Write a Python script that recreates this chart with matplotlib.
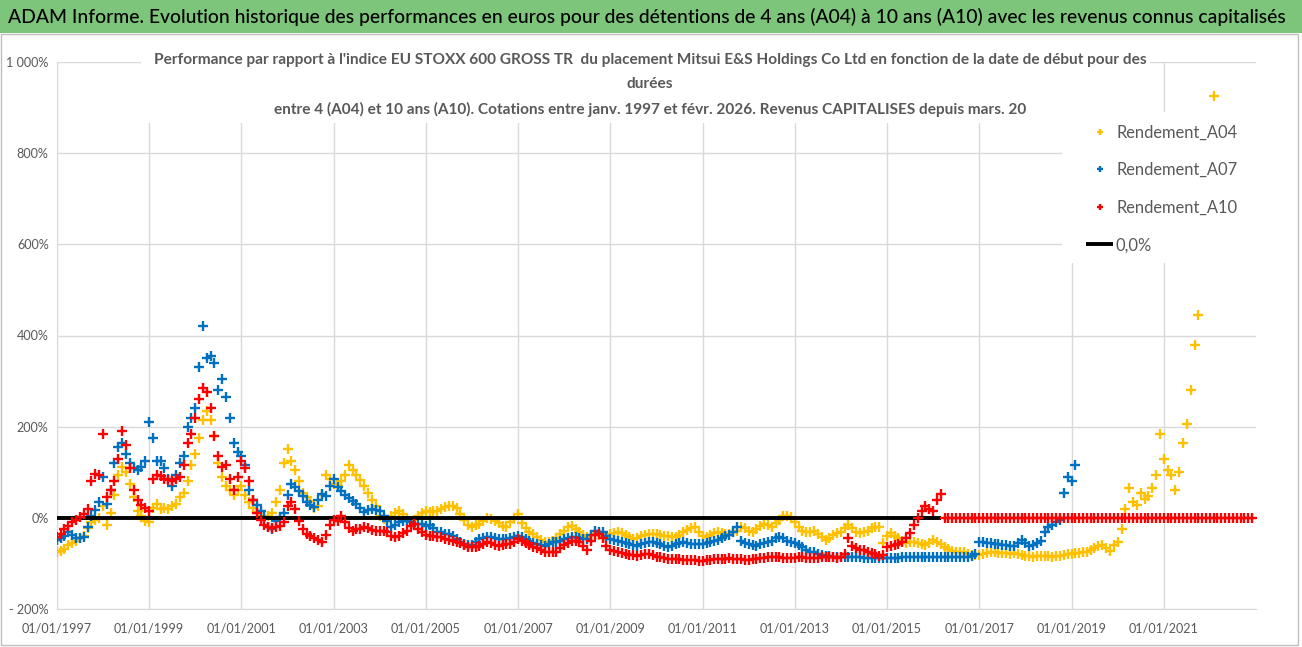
import numpy as np
import pandas as pd
import matplotlib
matplotlib.use('Agg')
import matplotlib.pyplot as plt
import matplotlib.dates as mdates
from matplotlib.patches import Rectangle

plt.rcParams['font.family'] = ['Lato', 'DejaVu Sans']

nan = np.nan

# Monthly values (%), one row per year from Jan 1997
rendement_a04 = [
    -75, -73, -68, -60, -55, -50, -45, -40, -22, -10, -5, 0,
    25, -15, 10, 50, 95, 112, 100, 75, 45, 15, 5, -8,
    -10, 22, 30, 20, 22, 20, 25, 30, 45, 55, 80, 115,
    140, 175, 215, 235, 215, 180, 120, 90, 70, 60, 50, 60,
    70, 50, 35, 22, 12, 5, 2, 4, 10, 35, 60, 120,
    150, 125, 105, 80, 55, 45, 38, 22, 25, 50, 95, 85,
    75, 70, 80, 95, 115, 105, 95, 82, 70, 55, 40, 25,
    5, -3, -6, 5, 10, 15, 8, -5, -6, -5, 5, 10,
    15, 12, 14, 16, 20, 24, 27, 25, 22, 8, -5, -15,
    -20, -16, -13, -6, 0, -3, -6, -12, -18, -20, -10, -3,
    8, -12, -22, -30, -35, -42, -48, -52, -53, -50, -44, -36,
    -28, -20, -17, -24, -31, -37, -42, -38, -35, -38, -42, -40,
    -36, -34, -32, -33, -38, -42, -46, -44, -40, -38, -36, -35,
    -36, -37, -39, -40, -41, -42, -38, -32, -26, -22, -20, -30,
    -40, -42, -38, -34, -31, -33, -35, -35, -32, -28, -20, -22,
    -28, -31, -25, -18, -13, -16, -20, -12, -5, 4, 5, 2,
    -10, -20, -28, -32, -30, -28, -35, -42, -49, -45, -38, -34,
    -30, -22, -16, -22, -30, -33, -31, -28, -23, -20, -20, -55,
    -40, -34, -40, -45, -50, -56, -54, -53, -55, -58, -60, -55,
    -49, -52, -58, -65, -68, -72, -75, -75, -76, -79, -82, -82,
    -82, -80, -78, -76, -75, -77, -77, -78, -80, -77, -80, -82,
    -84, -84, -85, -84, -84, -84, -84, -85, -84, -83, -81, -80,
    -80, -78, -77, -76, -74, -70, -67, -62, -60, -66, -73, -60,
    -52, -25, 20, 65, 35, 28, 55, 42, 48, 65, 95, 185,
    130, 105, 95, 60, 100, 165, 205, 280, 380, 445, nan, nan,
    nan, 925,
]

rendement_a07 = [
    -49, -45, -40, -32, -38, -44, -45, -42, -20, 5, 18, 35,
    90, 30, 60, 120, 155, 165, 140, 120, 110, 105, 112, 125,
    210, 175, 125, 125, 110, 85, 70, 95, 120, 135, 200, 220,
    240, 330, 420, 350, 355, 340, 280, 305, 265, 220, 165, 145,
    135, 115, 60, 40, 28, 15, 2, -20, -25, -8, 2, 10,
    50, 75, 68, 58, 48, 35, 28, 24, 40, 52, 48, 70,
    85, 68, 58, 50, 44, 38, 30, 22, 12, 18, 20, 18,
    16, 5, -8, -20, -15, -10, -7, -6, -10, -13, -13, -14,
    -17, -15, -22, -30, -32, -35, -36, -40, -47, -52, -57, -60,
    -60, -52, -46, -44, -42, -42, -44, -46, -47, -46, -45, -42,
    -39, -42, -46, -50, -55, -58, -60, -61, -58, -54, -52, -50,
    -47, -45, -43, -42, -44, -46, -46, -38, -28, -30, -32, -40,
    -46, -48, -50, -52, -56, -58, -60, -61, -58, -55, -54, -53,
    -55, -58, -62, -64, -62, -58, -55, -53, -55, -57, -58, -57,
    -57, -55, -53, -50, -48, -45, -40, -38, -30, -20, -50, -55,
    -58, -60, -61, -58, -55, -53, -50, -45, -42, -45, -50, -53,
    -55, -60, -65, -70, -74, -76, -80, -82, -83, -84, -85, -86,
    -86, -86, -86, -86, -86, -87, -88, -89, -89, -89, -89, -89,
    -89, -89, -88, -88, -87, -87, -87, -87, -86, -87, -87, -87,
    -87, -87, -87, -86, -86, -86, -86, -86, -85, -85, -84, -80,
    -53, -54, -56, -56, -57, -58, -59, -60, -61, -62, -55, -48,
    -55, -62, -60, -56, -50, -30, -20, -15, -10, -5, 55, 90,
    80, 115,
]

rendement_a10 = [
    -42, -35, -25, -18, -10, -5, 2, 8, 20, 80, 97, 95,
    185, 45, 60, 80, 130, 190, 160, 110, 60, 40, 28, 22,
    15, 85, 95, 92, 85, 82, 80, 85, 90, 115, 165, 185,
    220, 260, 285, 275, 240, 180, 135, 112, 115, 85, 60, 90,
    125, 110, 80, 40, 10, -5, -15, -20, -22, -20, -18, -10,
    25, 35, 20, -8, -25, -35, -40, -45, -48, -52, -38, -15,
    -5, -6, 3, -10, -22, -28, -25, -24, -21, -22, -27, -28,
    -28, -28, -30, -40, -42, -39, -33, -28, -18, -13, -25, -32,
    -38, -39, -40, -42, -43, -46, -49, -50, -54, -56, -60, -63,
    -64, -63, -61, -58, -54, -55, -60, -61, -60, -58, -57, -52,
    -46, -50, -56, -60, -63, -66, -70, -74, -76, -75, -74, -66,
    -60, -55, -50, -51, -53, -62, -70, -50, -38, -35, -45, -62,
    -70, -73, -76, -78, -80, -82, -82, -83, -82, -80, -80, -82,
    -85, -87, -88, -90, -90, -90, -91, -92, -92, -93, -93, -94,
    -94, -93, -92, -91, -90, -90, -90, -89, -90, -91, -91, -92,
    -92, -91, -90, -89, -88, -87, -86, -86, -87, -88, -88, -89,
    -88, -87, -87, -88, -89, -89, -88, -87, -86, -86, -87, -88,
    -86, -80, -45, -62, -67, -70, -71, -74, -77, -80, -84, -82,
    -64, -62, -60, -58, -53, -45, -34, -15, 0, 15, 25, 20,
    15, 40, 52, 0, 0, 0, 0, 0, 0, 0, 0, 0,
    0, 0, 0, 0, 0, 0, 0, 0, 0, 0, 0, 0,
    0, 0, 0, 0, 0, 0, 0, 0, 0, 0, 0, 0,
    0, 0, 0, 0, 0, 0, 0, 0, 0, 0, 0, 0,
    0, 0, 0, 0, 0, 0, 0, 0, 0, 0, 0, 0,
    0, 0, 0, 0, 0, 0, 0, 0, 0, 0, 0, 0,
    0, 0, 0, 0, 0, 0, 0, 0, 0, 0, 0, 0,
]

start = '1997-01-01'
zero_end = '2016-03-01'
x_end = '2023-01-01'
y_ticks = [-200, 0, 200, 400, 600, 800, 1000]
y_labels = ['- 200%', '0%', '200%', '400%', '600%', '800%', '1 000%']

header = ("ADAM Informe. Evolution historique des performances en euros pour des détentions "
          "de 4 ans (A04) à 10 ans (A10) avec les revenus connus capitalisés")
subtitle_lines = [
    "Performance par rapport à l'indice EU STOXX 600 GROSS TR  du placement Mitsui E&S "
    "Holdings Co Ltd en fonction de la date de début pour des",
    "durées",
    "entre 4 (A04) et 10 ans (A10). Cotations entre janv. 1997 et févr. 2026. "
    "Revenus CAPITALISES depuis mars. 20",
]

c_a04 = '#FFC000'
c_a07 = '#0070C0'
c_a10 = '#FF0000'
grey_txt = '#595959'

W, H = 1302, 647
fig = plt.figure(figsize=(W / 100, H / 100), dpi=100)
renderer = fig.canvas.get_renderer()


def fit_size(s, target_px, weight='normal'):
    # font size (pt) that gives the text the wanted width in pixels
    t = fig.text(0, 0, s, fontsize=10, fontweight=weight)
    w = t.get_window_extent(renderer=renderer).width
    t.remove()
    return 10 * target_px / w


# green header band
fig.patches.append(Rectangle((0, 1 - 33 / H), 1, 33 / H, transform=fig.transFigure,
                             fc='#7DC57A', ec='none', zorder=0))
fig.text(8 / W, 1 - 17 / H, header, fontsize=fit_size(header, 1280, 'medium'),
         fontweight='medium', color='black', va='center', ha='left')
# light frame of the chart zone
fig.patches.append(Rectangle((0.5 / W, 2 / H), 1297 / W, (H - 36) / H, transform=fig.transFigure,
                             fc='none', ec='#BFBFBF', lw=1, zorder=0))

ax = fig.add_axes([57 / W, 1 - 609 / H, (1256 - 57) / W, (609 - 62) / H])

d04 = pd.date_range(start, periods=len(rendement_a04), freq='MS')
d07 = pd.date_range(start, periods=len(rendement_a07), freq='MS')
d10 = pd.date_range(start, periods=len(rendement_a10), freq='MS')

mk = dict(linestyle='none', marker='+', ms=7, mew=1.7)
l04, = ax.plot(d04, rendement_a04, color=c_a04, label='Rendement_A04', zorder=3, **mk)
l07, = ax.plot(d07, rendement_a07, color=c_a07, label='Rendement_A07', zorder=3.1, **mk)
l10, = ax.plot(d10, rendement_a10, color=c_a10, label='Rendement_A10', zorder=3.3, **mk)
l0, = ax.plot([pd.Timestamp(start), pd.Timestamp(zero_end)], [0, 0], color='black', lw=2.8,
              label='0,0%', zorder=3.2, solid_capstyle='butt')

tick_fs = fit_size('01/01/1997', 70)
ax.set_xlim(pd.Timestamp(start), pd.Timestamp(x_end))
ax.set_ylim(-200, 1000)
ax.set_yticks(y_ticks)
ax.set_yticklabels(y_labels)
ax.set_xticks(pd.date_range(start, '2021-01-01', freq='2YS'))
ax.xaxis.set_major_formatter(mdates.DateFormatter('%d/%m/%Y'))
ax.tick_params(length=0, labelsize=tick_fs, labelcolor=grey_txt)
ax.tick_params(axis='y', pad=6)
ax.tick_params(axis='x', pad=10)
ax.grid(True, color='#D9D9D9', lw=1)
ax.set_axisbelow(True)
for s in ['top', 'right']:
    ax.spines[s].set_visible(False)
ax.spines['left'].set_color('#D9D9D9')
ax.spines['bottom'].set_color('#D9D9D9')

# subtitle sits on a white box over the top of the plot
fig.patches.append(Rectangle((141 / W, 1 - 123 / H), (1150 - 141) / W, 78 / H,
                             transform=fig.transFigure, fc='white', ec='none', zorder=1))
sub_fs = fit_size(subtitle_lines[0], 994, weight='bold')
for line, y_px in zip(subtitle_lines, [60, 84, 109]):
    fig.text(650 / W, 1 - y_px / H, line, fontsize=sub_fs, fontweight='bold', color=grey_txt,
             ha='center', va='center', zorder=2)

# legend zone
fig.patches.append(Rectangle((1062 / W, 1 - 263 / H), (1256 - 1062) / W, 151 / H,
                             transform=fig.transFigure, fc='white', ec='none', zorder=1))
leg_fs = fit_size('Rendement_A04', 122)
fs_px = leg_fs * 100 / 72
bpad = 19 / fs_px - 0.62
fig.legend(handles=[l04, l07, l10, l0], loc='upper left',
           bbox_to_anchor=((1086 - bpad * fs_px) / W, 1 - 116 / H), frameon=False,
           fontsize=leg_fs, labelcolor=grey_txt, handlelength=27 / fs_px,
           handletextpad=3 / fs_px, labelspacing=(42 - 1.24 * fs_px) / fs_px,
           borderpad=bpad, borderaxespad=0, markerscale=0.7)

fig.savefig('out.png', dpi=100)
